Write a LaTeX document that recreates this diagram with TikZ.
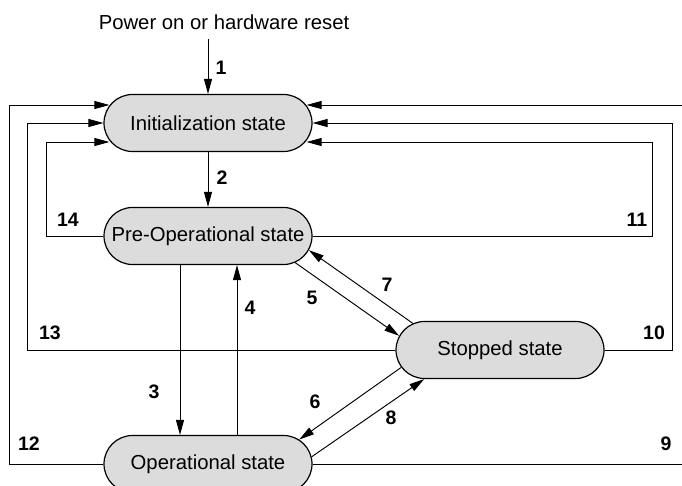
\documentclass[tikz,border=0pt]{standalone}
\usepackage{fontspec}
\setmainfont{Liberation Sans}
\usetikzlibrary{shapes.misc,arrows.meta,calc}
\definecolor{stategray}{RGB}{220,220,220}
\begin{document}
\begin{tikzpicture}[x=1pt,y=-1pt,
  state/.style={rounded rectangle, draw, line width=1.2pt, fill=stategray,
    minimum width=208pt, minimum height=57pt, inner sep=0pt,
    font=\fontsize{20.3}{24}\selectfont},
  conn/.style={line width=0.95pt},
  arr/.style={conn, -{Triangle[length=15pt,width=8pt]}},
  num/.style={font=\fontsize{19.5}{22}\selectfont\bfseries},
  lab/.style={font=\fontsize{20.3}{24}\selectfont}]
\useasboundingbox (0,0) rectangle (682,486);

\node[lab] (power) at (224,22) {Power on or hardware reset};
\node[state] (init) at (208,123) {Initialization state};
\node[state] (pre) at (208,236) {Pre-Operational state};
\node[state] (stop) at (500,350) {Stopped state};
\node[state] (op) at (208,464) {Operational state};

% 1
\draw[arr] ($(power.south -| init.north)+(0,6)$) -- (init.north);
% 2
\draw[arr] (init.south) -- (pre.north);
% 3 and 4
\draw[arr] ($(pre.south)+(-28,0)$) -- ($(op.north)+(-28,0)$);
\draw[arr] ($(op.north)+(29,0)$) -- ($(pre.south)+(29,0)$);
% 5 and 7
\draw[arr] (pre.-17) -- (stop.172);
\draw[arr] (stop.163) -- (pre.-8);
% 6 and 8
\draw[arr] (stop.190) -- (op.15);
\draw[arr] (op.4) -- (stop.201);
% 14 and 11
\draw[arr] (pre.west) -- ++(-57,0) |- ($(init.west)+(6,19)$);
\draw[arr] (pre.east) -- ++(340,0) |- ($(init.east)+(-6,19)$);
% 13 and 10
\draw[arr] (stop.west) -- ++(-368,0) |- (init.west);
\draw[arr] (stop.east) -- ++(68,0) |- (init.east);
% 12 and 9
\draw[arr] (op.west) -- ++(-94,0) |- ($(init.west)+(6,-18)$);
\draw[arr] (op.east) -- ++(380,0) |- ($(init.east)+(-6,-18)$);

% labels
\node[num] (n1) at (221,68) {1};
\node[num] (n2) at (222,178) {2};
\node[num] (n3) at (154,392) {3};
\node[num] (n4) at (250,308) {4};
\node[num] (n5) at (312,298) {5};
\node[num] (n6) at (315,402) {6};
\node[num] (n7) at (387,285) {7};
\node[num] (n8) at (391,418) {8};
\node[num] (n9) at (666,444) {9};
\node[num] (n10) at (654,333) {10};
\node[num] (n11) at (637,220) {11};
\node[num] (n12) at (29,444) {12};
\node[num] (n13) at (50,333) {13};
\node[num] (n14) at (68,220) {14};
\end{tikzpicture}
\end{document}
